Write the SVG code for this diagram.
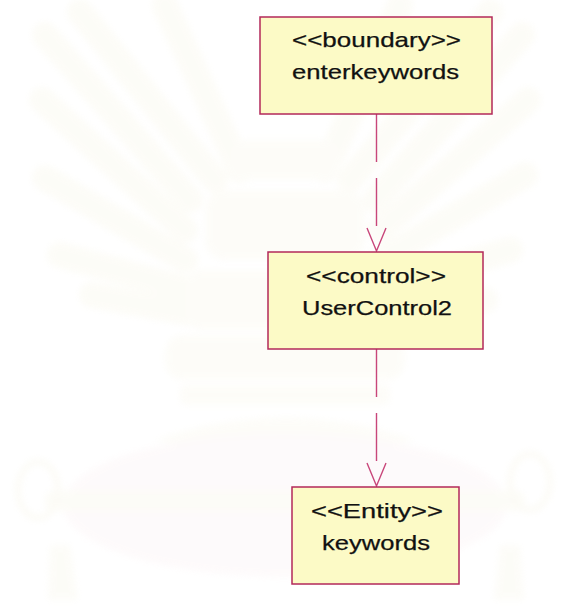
<svg xmlns="http://www.w3.org/2000/svg" width="564" height="609" viewBox="0 0 564 609">
  <defs>
    <filter id="soft" x="-10%" y="-10%" width="120%" height="120%">
      <feGaussianBlur stdDeviation="3"/>
    </filter>
  </defs>
  <style>
    .ray { stroke: #f8f6e6; stroke-width: 26; stroke-linecap: round; fill: none; }
    .box { fill: #fcfac6; stroke: #b3285a; stroke-width: 1.5; }
    .label { font-family: "Liberation Sans", Arial, sans-serif; font-size: 21px; fill: #111111; stroke: #111111; stroke-width: 0.25; }
    .dep { fill: none; stroke: #c8467a; stroke-width: 1.4; }
    .dash { stroke-dasharray: 48 16; }
  </style>

  <rect width="564" height="609" fill="#ffffff"/>

  <!-- faint emblem in the background -->
  <g id="backdrop" filter="url(#soft)" opacity="0.3">
    <g class="rays">
      <line class="ray" x1="190" y1="200" x2="45" y2="35"/>
      <line class="ray" x1="185" y1="230" x2="42" y2="100"/>
      <line class="ray" x1="185" y1="260" x2="45" y2="178"/>
      <line class="ray" x1="190" y1="290" x2="60" y2="255"/>
      <line class="ray" x1="200" y1="315" x2="92" y2="295"/>
      <line class="ray" x1="215" y1="180" x2="80" y2="12"/>
      <line class="ray" x1="240" y1="170" x2="165" y2="5"/>
      <line class="ray" x1="375" y1="200" x2="522" y2="35"/>
      <line class="ray" x1="380" y1="230" x2="528" y2="100"/>
      <line class="ray" x1="380" y1="260" x2="525" y2="175"/>
      <line class="ray" x1="375" y1="290" x2="510" y2="250"/>
      <line class="ray" x1="365" y1="315" x2="485" y2="300"/>
      <line class="ray" x1="350" y1="180" x2="490" y2="12"/>
      <line class="ray" x1="325" y1="170" x2="400" y2="5"/>
    </g>
    <g fill="#f9f7ea">
      <rect x="230" y="140" width="110" height="40" rx="14"/>
      <rect x="205" y="190" width="160" height="70" rx="20"/>
      <rect x="185" y="270" width="200" height="60" rx="16"/>
      <rect x="165" y="335" width="240" height="45" rx="18"/>
      <rect x="180" y="385" width="210" height="20" rx="6"/>
      <path d="M155 440 Q285 395 415 440 L340 455 L285 470 L230 455 Z"/>
    </g>
    <ellipse cx="285" cy="505" rx="222" ry="72" fill="#fbf0f2"/>
    <rect x="45" y="491" width="480" height="20" rx="8" fill="#f8f6e6"/>
    <g fill="none" stroke="#f6f3e2" stroke-width="6">
      <ellipse cx="38" cy="490" rx="20" ry="28"/>
      <ellipse cx="530" cy="482" rx="20" ry="28"/>
    </g>
    <g fill="#f8f6e8">
      <path d="M50 545 L70 545 L78 600 L48 600 Z"/>
      <path d="M500 545 L520 545 L524 600 L494 600 Z"/>
    </g>
  </g>

  <!-- dependencies -->
  <g id="connectors">
    <path class="dep dash" d="M376.5 114 V226"/>
    <polyline class="dep" points="367,228 376.5,251 386,228"/>
    <path class="dep dash" d="M376.5 349 V461"/>
    <polyline class="dep" points="367,463 376.5,486 386,463"/>
  </g>

  <g id="enterkeywords">
    <rect class="box" x="260" y="17" width="232" height="97"/>
    <text class="label" x="292" y="47" textLength="169" lengthAdjust="spacingAndGlyphs">&lt;&lt;boundary&gt;&gt;</text>
    <text class="label" x="292" y="79" textLength="167" lengthAdjust="spacingAndGlyphs">enterkeywords</text>
  </g>

  <g id="UserControl2">
    <rect class="box" x="268" y="252" width="215" height="97"/>
    <text class="label" x="306" y="283" textLength="140" lengthAdjust="spacingAndGlyphs">&lt;&lt;control&gt;&gt;</text>
    <text class="label" x="302" y="315" textLength="150" lengthAdjust="spacingAndGlyphs">UserControl2</text>
  </g>

  <g id="keywords">
    <rect class="box" x="292" y="487" width="167" height="97"/>
    <text class="label" x="311" y="518" textLength="132" lengthAdjust="spacingAndGlyphs">&lt;&lt;Entity&gt;&gt;</text>
    <text class="label" x="322" y="550" textLength="108" lengthAdjust="spacingAndGlyphs">keywords</text>
  </g>
</svg>
